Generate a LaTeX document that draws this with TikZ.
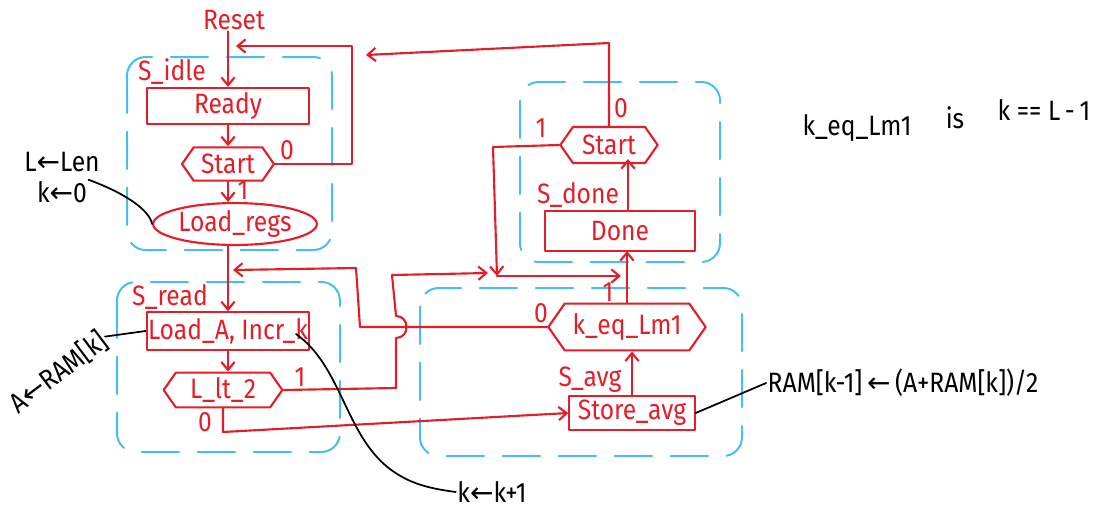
\documentclass[tikz,border=0pt]{standalone}
\usepackage{fontspec}
\setmainfont{Fira Sans}[FakeStretch=0.88]
\newfontfamily\arrowfont{DejaVu Sans}
\usetikzlibrary{arrows.meta,shapes.geometric,shapes.symbols,calc}
\definecolor{inkred}{RGB}{228,30,40}
\definecolor{inkblue}{RGB}{70,190,240}
\newcommand\larr{{\arrowfont\char"2190}}
\begin{document}
\begin{tikzpicture}[x=0.75pt,y=-0.75pt,
  ink/.style={draw=inkred, line width=1.6pt, line cap=round, line join=round},
  flow/.style={ink, -{Straight Barb[length=6pt,width=10pt]}},
  hand/.style={font=\fontsize{21}{24}\selectfont, inner sep=1pt},
  redtxt/.style={hand, text=inkred},
  blktxt/.style={hand, text=black},
  statebox/.style={ink, rectangle, hand, text=inkred},
  decbox/.style={ink, signal, signal to=east and west, signal pointer angle=110, hand, text=inkred},
  condbox/.style={ink, ellipse, hand, text=inkred},
  region/.style={draw=inkblue, line width=1.5pt, rounded corners=14pt, dash pattern=on 28pt off 14pt, line cap=round},
  note/.style={draw=black, line width=1.3pt, line cap=round}]
\useasboundingbox (0,0) rectangle (1108,508);

% state regions
\draw[region] (127,57) rectangle (332,250);
\draw[region] (117,282) rectangle (340,452);
\draw[region] (420,288) rectangle (742,456);
\draw[region] (520,82) rectangle (720,262);

% S_idle
\node[redtxt] (reset) at (234,20) {Reset};
\node[redtxt] (lidle) at (172,72) {S\_idle};
\node[statebox, minimum width=122pt, minimum height=27pt] (ready) at (228,106) {Ready};
\node[decbox, minimum width=69pt, minimum height=25pt] (start1) at (228,164) {Start};
\node[condbox, minimum width=99pt, minimum height=31pt] (loadregs) at (235,224) {Load\_regs};

% S_read
\node[redtxt] (lread) at (170,297) {S\_read};
\node[statebox, minimum width=122pt, minimum height=28pt] (loada) at (228,331) {Load\_A, Incr\_k};
\node[decbox, minimum width=89pt, minimum height=26pt] (llt2) at (223,390) {L\_lt\_2};

% S_avg
\node[redtxt] (lavg) at (590,380) {S\_avg};
\node[statebox, minimum width=94pt, minimum height=25pt] (store) at (632,413) {Store\_avg};
\node[decbox, minimum width=118pt, minimum height=35pt] (keq) at (627,327) {k\_eq\_Lm1};

% S_done
\node[redtxt] (ldone) at (578,195) {S\_done};
\node[statebox, minimum width=112pt, minimum height=30pt] (done) at (620,231) {Done};
\node[decbox, minimum width=73pt, minimum height=27pt] (start2) at (609,145) {Start};

% branch values
\node[redtxt] at (287,150) {0};
\node[redtxt] at (243,190) {1};
\node[redtxt] at (300,377) {1};
\node[redtxt] at (205,422) {0};
\node[redtxt] at (541,313) {0};
\node[redtxt] at (608,292) {1};
\node[redtxt] at (621,108) {0};
\node[redtxt] at (541,128) {1};

% junction points on the flow lines
\coordinate (idlein) at (236,46);
\coordinate (idlein2) at (366,55);
\coordinate (readin) at (233,270);
\coordinate (dj) at (497,276);
\coordinate (djin) at (488,273);
\coordinate (donein) at (621,276);
\coordinate (doneup) at (628,251);
\coordinate (startup) at (628,159);

% flow
\draw[flow] (ready.north |- reset.south) -- (ready.north);
\draw[flow] (ready) -- (start1);
\draw[flow] (start1.south) -- (start1.south |- loadregs.north);
\draw[flow] (start1.east) -- (352,164) -- (352,46) -- (idlein);
\draw[flow] (loada.north |- loadregs.south) -- (loada.north);
\draw[flow] (loada) -- (loada.south |- llt2.north);
\draw[flow] (keq.west) -- (360,327) -- (356,268) -- (readin);
\draw[flow] (llt2.east) -- (396,388) -- (396,338)
   .. controls (410,338) and (410,316) .. (396,316) -- (392,275) -- (djin);
\draw[flow] (llt2.south) -- (223,432) -- (store.west);
\draw[flow] (store.north) -- (store.north |- keq.south);
\draw[flow] (keq.north) -- (keq.north |- doneup);
\draw[flow] (start2.west) -- (493,147) -- (dj);
\draw[flow] (dj) -- (donein);
\draw[flow] (done.north -| startup) -- (startup);
\draw[flow] (start2.north) -- (609,43) -- (idlein2);

% register transfer notes
\node[blktxt] (llen) at (62,162) {L\larr Len};
\node[blktxt] (kz) at (62,192) {k\larr 0};
\draw[note] (kz.north east) .. controls (130,195) and (150,212) .. (loadregs.west);

\node[blktxt, rotate=37] (aram) at (58,372) {A\larr RAM[k]};
\draw[note] (aram.east) -- (loada.west);

\coordinate (kspot) at (296,334);
\node[blktxt] (kinc) at (492,492) {k\larr k+1};
\draw[note] (kspot) .. controls (340,365) and (345,430) .. (385,465)
   .. controls (405,482) and (425,488) .. (kinc.west);

\node[blktxt] (ramnote) at (903,383) {RAM[k-1]\,\larr\,(A+RAM[k])/2};
\draw[note] (store.east) -- (ramnote.west);

\node[blktxt] (keqname) at (857,128) {k\_eq\_Lm1};
\node[blktxt] (keqis) at (955,118) {is};
\node[blktxt] (keqdef) at (1044,110) {k\ == L\,-\,1};
\end{tikzpicture}
\end{document}
